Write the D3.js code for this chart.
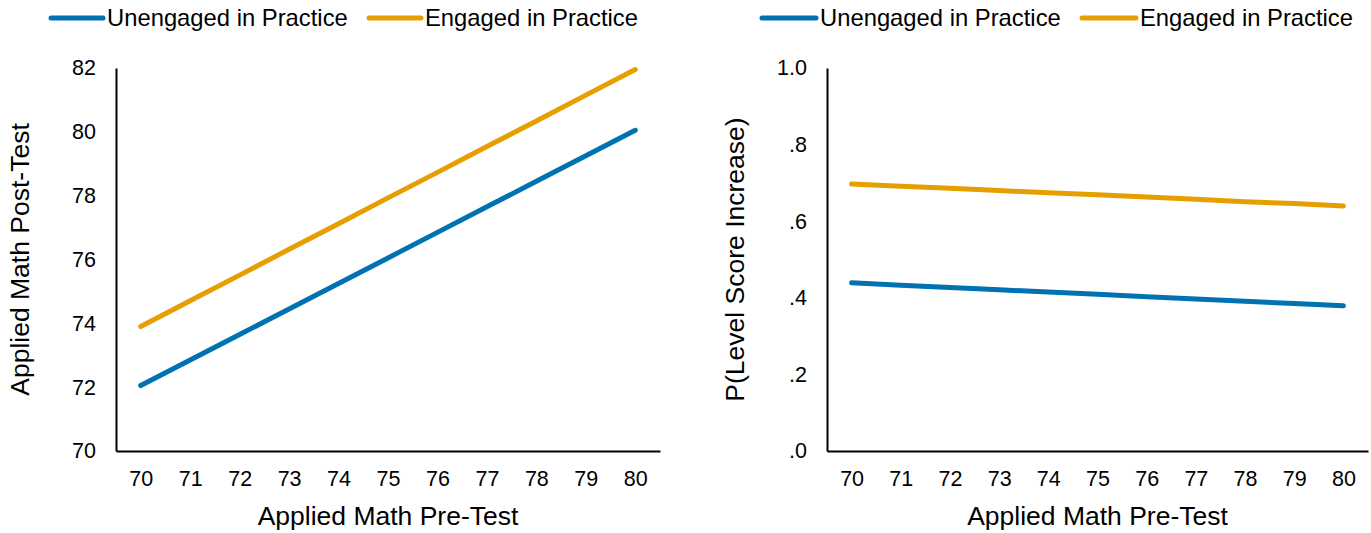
<!DOCTYPE html>
<html><head><meta charset="utf-8">
<script src="https://cdn.jsdelivr.net/npm/d3@7"></script>
<style>body{margin:0;background:#fff}svg{display:block}text{font-family:"Liberation Sans",Arial,sans-serif;fill:#000}</style>
</head><body><svg id="c" width="1371" height="533"></svg>
<script>
const preTest = [70,71,72,73,74,75,76,77,78,79,80];
const seriesNames = ["Unengaged in Practice","Engaged in Practice"];
const seriesColors = ["#0072B2","#E69F00"];
const postUnengaged = [72.05,72.85,73.65,74.45,75.25,76.05,76.85,77.65,78.45,79.25,80.05];
const postEngaged = [73.9,74.71,75.51,76.32,77.12,77.93,78.73,79.54,80.34,81.15,81.95];
const probUnengaged = [.439,.433,.427,.421,.415,.409,.403,.397,.391,.385,.379];
const probEngaged = [.697,.691,.686,.680,.674,.669,.663,.657,.651,.646,.640];
const leftTicks = [70,72,74,76,78,80,82];
const rightTicks = [0,.2,.4,.6,.8,1.0];

const svg = d3.select("#c");

function panel(opt){
  const g = svg.append("g");
  const x = d3.scalePoint().domain(preTest).range([opt.x0, opt.x1]).padding(0.5);
  const y = d3.scaleLinear().domain(opt.ydom).range([opt.y1, opt.y0]);
  const xa = g.append("g").attr("transform",`translate(0,${opt.y1})`)
    .call(d3.axisBottom(x).tickSize(0).tickPadding(20));
  const ya = g.append("g").attr("transform",`translate(${opt.x0},0)`)
    .call(d3.axisLeft(y).tickValues(opt.yticks).tickFormat(opt.fmt).tickSize(0).tickPadding(20));
  [xa,ya].forEach(a=>{
    a.select(".domain").attr("stroke","#000").attr("stroke-width",2);
    a.selectAll("text").style("font-size","21.5px").style("font-family",'"Liberation Sans",Arial,sans-serif').attr("fill","#000");
  });
  const line = d3.line().x((d,i)=>x(preTest[i])).y(d=>y(d));
  opt.series.forEach((s,k)=>{
    g.append("path").datum(s).attr("d",line).attr("fill","none")
      .attr("stroke",seriesColors[k]).attr("stroke-width",5).attr("stroke-linecap","round");
  });
  g.append("text").attr("x",(opt.x0+opt.x1)/2).attr("y",opt.y1+74).attr("text-anchor","middle")
    .style("font-size","26.5px").text("Applied Math Pre-Test");
  g.append("text").attr("transform",`translate(${opt.tx},${(opt.y0+opt.y1)/2}) rotate(-90)`)
    .attr("text-anchor","middle").style("font-size","26.5px").text(opt.ytitle);
  opt.legend.forEach((l,k)=>{
    g.append("line").attr("x1",l[0]).attr("x2",l[1]).attr("y1",18).attr("y2",18)
      .attr("stroke",seriesColors[k]).attr("stroke-width",5).attr("stroke-linecap","round");
    g.append("text").attr("x",l[1]+4).attr("y",26).style("font-size","23.8px").text(seriesNames[k]);
  });
}

panel({x0:116,x1:660,y0:68,y1:451,ydom:[70,82],yticks:leftTicks,fmt:d3.format("d"),
  series:[postUnengaged,postEngaged],ytitle:"Applied Math Post-Test",tx:29,
  legend:[[51,103],[369,421]]});
panel({x0:827,x1:1368,y0:68,y1:451,ydom:[0,1],yticks:rightTicks,
  fmt:d=>d===1?"1.0":d3.format(".1f")(d).replace(/^0/,""),
  series:[probUnengaged,probEngaged],ytitle:"P(Level Score Increase)",tx:744,
  legend:[[762,816],[1082,1136]]});
</script></body></html>
